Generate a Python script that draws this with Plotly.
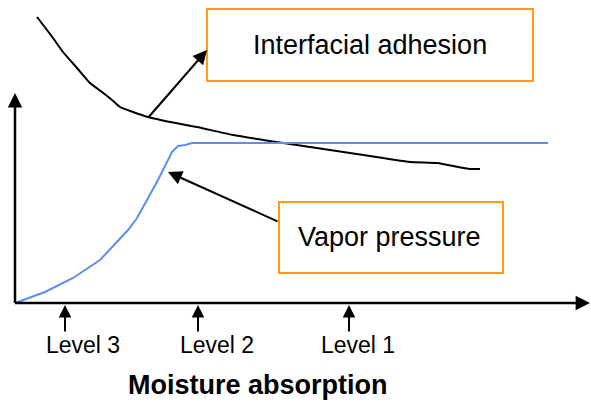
import plotly.graph_objects as go

# Schematic data (origin of the axes at 0,0)
adhesion_x = [22, 38, 48, 62, 75, 87, 97, 105, 118, 133, 155, 182, 218, 275, 335, 395, 422, 455, 465]
adhesion_y = [286, 265, 251, 235, 220, 211, 203, 196, 191, 186, 181, 176, 168, 159, 150, 141, 140, 134, 134]

vapor_x = [0, 30, 58, 85, 113, 122, 132, 143, 157, 163, 170, 177, 533]
vapor_y = [0, 11, 25, 43, 73, 85, 103, 123, 151, 157, 158, 160, 160]

level_labels = ["Level 3", "Level 2", "Level 1"]
level_x = [50, 183, 334]
level_label_x = [68, 202, 343]

FONT = "Liberation Sans, Arial, sans-serif"
ORANGE = "#FF9A1A"
BLUE = "#5B8EF0"

fig = go.Figure()
fig.add_trace(go.Scatter(x=adhesion_x, y=adhesion_y, mode="lines",
                         line=dict(color="black", width=2, shape="spline", smoothing=0.5),
                         hoverinfo="skip"))
fig.add_trace(go.Scatter(x=vapor_x, y=vapor_y, mode="lines",
                         line=dict(color=BLUE, width=2), hoverinfo="skip"))

ann = []
def arrow(x, y, ax, ay, w=2.0, size=1.4):
    ann.append(dict(x=x, y=y, ax=ax, ay=ay, xref="x", yref="y", axref="x", ayref="y",
                    text="", showarrow=True, arrowhead=2, arrowsize=size,
                    arrowwidth=w, arrowcolor="black", standoff=0, startstandoff=0))

# axes
arrow(0, 210, 0, -1.5, w=2.5, size=1.15)
arrow(575, 0, -1.5, 0, w=2.5, size=1.15)

# pointers
arrow(192, 253, 132, 184, w=2, size=1.4)
arrow(153, 131, 264, 81, w=2, size=1.4)

# levels
for lx, tx, lab in zip(level_x, level_label_x, level_labels):
    arrow(lx, -2, lx, -30, w=2, size=1.25)
    ann.append(dict(x=tx, y=-42, xref="x", yref="y", text=lab, showarrow=False,
                    font=dict(family=FONT, size=23, color="black")))

# boxes
shapes = [
    dict(type="rect", x0=192, x1=518, y0=222, y1=294, xref="x", yref="y",
         line=dict(color=ORANGE, width=2), fillcolor="white", layer="above"),
    dict(type="rect", x0=264, x1=488, y0=30, y1=101, xref="x", yref="y",
         line=dict(color=ORANGE, width=2), fillcolor="white", layer="above"),
]
ann.append(dict(x=355, y=258, xref="x", yref="y", text="Interfacial adhesion", showarrow=False,
                font=dict(family=FONT, size=27, color="black")))
ann.append(dict(x=374, y=66, xref="x", yref="y", text="Vapor pressure", showarrow=False,
                font=dict(family=FONT, size=27, color="black")))
ann.append(dict(x=243, y=-82, xref="x", yref="y", text="<b>Moisture absorption</b>", showarrow=False,
                font=dict(family=FONT, size=27, color="black")))

fig.update_layout(
    width=591, height=403, autosize=False,
    margin=dict(l=0, r=0, t=0, b=0, pad=0),
    paper_bgcolor="white", plot_bgcolor="white",
    showlegend=False,
    xaxis=dict(range=[-15, 576], visible=False, fixedrange=True),
    yaxis=dict(range=[-100, 303], visible=False, fixedrange=True),
    shapes=shapes, annotations=ann,
)
fig.write_html("out.html", config={"displayModeBar": False},
               post_script="document.body.style.margin='0px';document.body.style.overflow='hidden';")
